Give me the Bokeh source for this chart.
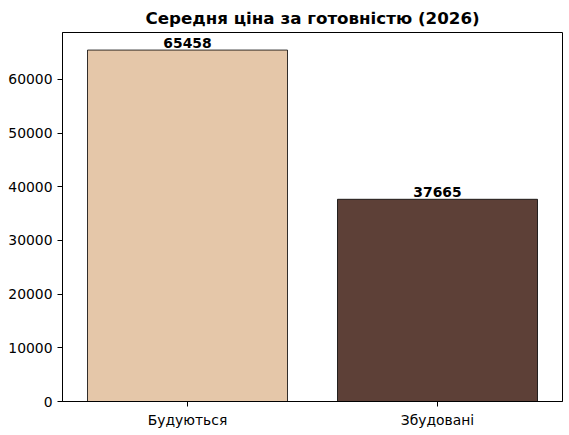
from bokeh.plotting import figure
from bokeh.models import FactorRange, Range1d, FixedTicker, BasicTickFormatter, ColumnDataSource
from bokeh.embed import file_html
from bokeh.resources import INLINE

categories = ["Будуються", "Збудовані"]
values = [65458, 37665]
colors = ["#E5C7A9", "#5D4037"]
labels = [str(v) for v in values]
y_ticks = [0, 10000, 20000, 30000, 40000, 50000, 60000]

src = ColumnDataSource(dict(cat=categories, val=values, col=colors, lab=labels))

p = figure(x_range=FactorRange(*categories, range_padding=0),
           y_range=Range1d(0, max(values) * 1.05),
           frame_width=500, frame_height=369,
           output_backend="svg", toolbar_location=None,
           min_border_left=62, min_border_top=25, min_border_right=1, min_border_bottom=26)

p.title.text = "Середня ціна за готовністю (2026)"
p.title.align = "center"
p.title.text_font = "DejaVu Sans"
p.title.text_font_size = "16.7px"
p.title.text_font_style = "bold"
p.title.text_color = "black"

p.vbar(x="cat", top="val", width=0.8, fill_color="col", line_color="black", line_width=0.8, source=src)
p.text(x="cat", y="val", text="lab", text_align="center", text_baseline="middle",
       y_offset=-7,
       text_font_size="13.9px", text_font_style="bold", text_color="black",
       text_font={"value": "DejaVu Sans"}, source=src)

p.xgrid.visible = False
p.ygrid.visible = False
p.outline_line_color = "black"
p.outline_line_alpha = 1
p.outline_line_width = 1

p.yaxis.ticker = FixedTicker(ticks=y_ticks)
p.yaxis.formatter = BasicTickFormatter(use_scientific=False)
for ax in (p.xaxis[0], p.yaxis[0]):
    ax.major_label_text_font = "DejaVu Sans"
    ax.major_label_text_font_size = "13.9px"
    ax.major_label_text_color = "black"
    ax.axis_line_color = "black"
    ax.major_tick_line_color = "black"
    ax.major_tick_in = 0
    ax.major_tick_out = 5
    ax.minor_tick_line_color = None
    ax.major_label_standoff = 5

open("out.html", "w").write(file_html(p, INLINE))
